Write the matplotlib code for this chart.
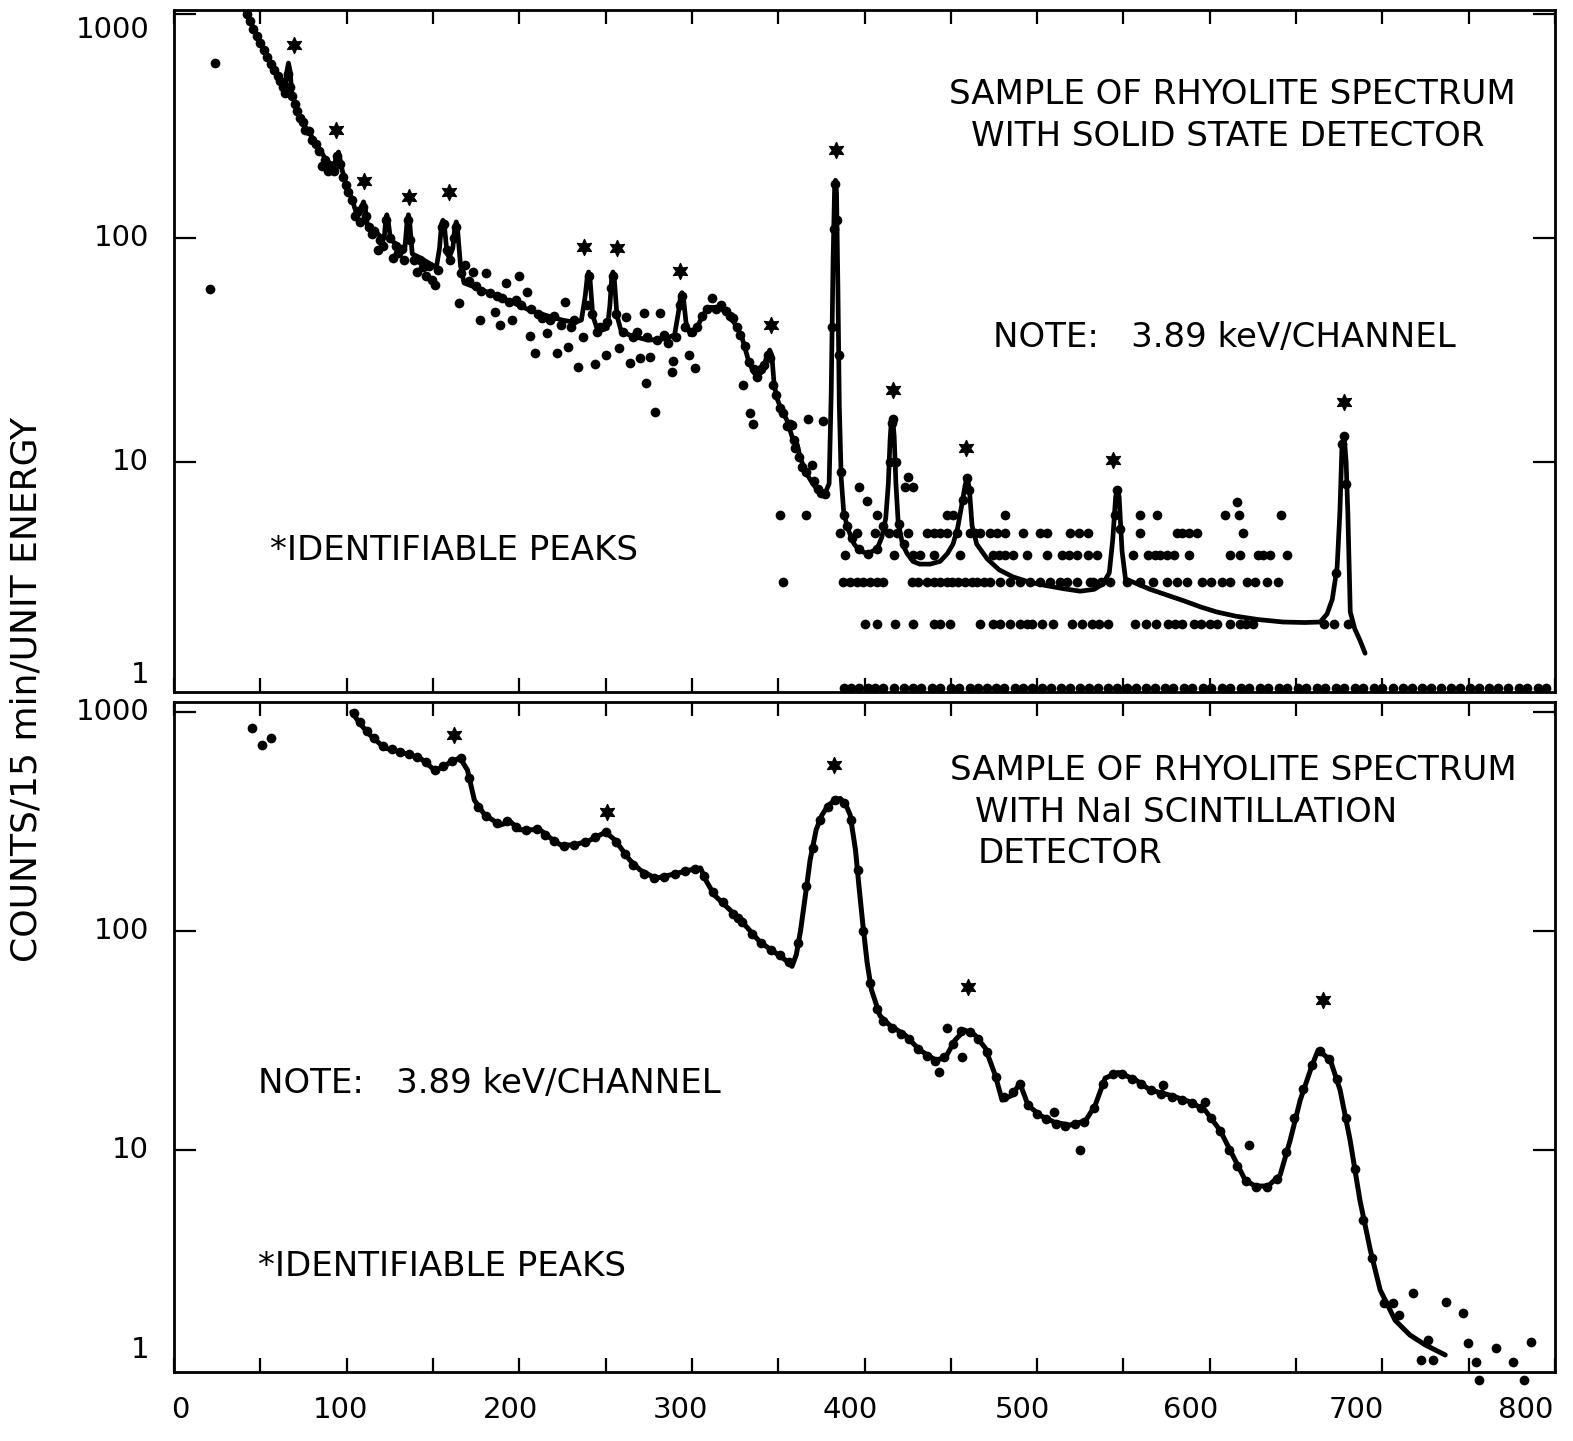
"""
Rhyolite gamma spectra: solid state detector (top) vs NaI scintillation (bottom).
Redrawn from a scanned figure -> out.png
"""
import numpy as np
import matplotlib
matplotlib.use("Agg")
import matplotlib.pyplot as plt
from matplotlib.ticker import MultipleLocator, NullLocator

W, H = 1573, 1441

# ---------------- solid state detector (top) ----------------
ss_line = [
    (41, 1040), (45, 900), (50, 742), (54, 650), (58, 574), (61, 520), (63, 480),
    (64.5, 470), (65.5, 560), (66.3, 604), (67.2, 560), (68.2, 450), (70, 401),
    (73, 350), (76, 313), (79, 290), (82, 266), (85, 245), (88, 223), (91, 214),
    (93, 215), (94.4, 235), (95.3, 242), (96.2, 225), (97.5, 200), (100, 169),
    (103, 150), (105.5, 130), (107.5, 128), (109, 140), (109.8, 145), (110.8, 135),
    (112, 115), (116, 108), (120, 101), (121.8, 100), (122.6, 120), (123.3, 127),
    (124.1, 118), (125.5, 98), (128, 95), (131, 90), (133.8, 91), (135, 118),
    (135.8, 127), (136.6, 116), (138, 85), (142, 82), (148, 77), (152, 74),
    (153.8, 90), (155, 116), (155.8, 120), (156.7, 112), (158.2, 85), (159.5, 82),
    (161.5, 90), (162.7, 112), (163.5, 118), (164.3, 108), (166, 75), (168, 63),
    (175, 60), (185, 56), (195, 52), (205, 48), (216, 45), (225, 43), (232, 42),
    (236, 43), (238.2, 55), (239.5, 68), (240.2, 70.5), (241.1, 64), (242.6, 45),
    (245, 39.5), (248, 38.8), (251, 39.5), (252.5, 50), (253.6, 67), (254.3, 70.5),
    (255.1, 65), (256.6, 45), (259, 38.5), (265, 36.5), (275, 35), (285, 35.5),
    (290, 37), (292.5, 48), (293.6, 56), (294.3, 57), (295.1, 54), (296.6, 42),
    (299, 37), (303, 40), (307, 46), (311, 49), (316, 49), (322, 45), (326, 40),
    (329, 36), (333, 28), (336, 25), (338, 24), (341, 25.5), (343, 29),
    (345.1, 31.6), (346.3, 30), (347.5, 23), (349, 19.5), (352, 17), (355, 15.4),
    (358, 13), (361, 12), (362.7, 10.5), (366, 9), (370, 8), (374, 7.3), (377, 7.2),
    (379.5, 8), (380.7, 20), (381.8, 80), (382.7, 170), (383.2, 181), (383.8, 160),
    (384.6, 60), (385.4, 18), (386.5, 8.5), (388, 5.9), (390.5, 5.0), (394, 4.3),
    (397.4, 4.0), (402, 3.9), (407.3, 4.1), (410, 4.6), (412.3, 5.6), (413.8, 8),
    (414.8, 12.5), (415.6, 15.5), (416.3, 15.7), (417.2, 13), (418.2, 8), (419.5, 5.4),
    (422, 4.3), (424.7, 3.9), (428, 3.6), (432, 3.5), (438, 3.5), (443.8, 3.6),
    (448, 3.9), (451.3, 4.3), (454, 5.1), (456, 6.2), (458.2, 7.8), (459.5, 8.6),
    (460.8, 7.5), (462.3, 5.2), (465, 4.3), (471, 3.7), (478, 3.3), (486, 3.07),
    (496, 2.9), (506, 2.8), (515, 2.72), (525, 2.65), (533, 2.7), (538, 2.85),
    (541.8, 3.2), (543.8, 4.5), (545.5, 7.0), (546.5, 7.6), (547.5, 7.0), (549.2, 4.0),
    (551.2, 3.0), (556, 2.9), (565.5, 2.7), (575, 2.55), (585, 2.4), (595, 2.25),
    (604, 2.14), (615, 2.05), (628, 1.98), (642.5, 1.93), (655, 1.92), (664, 1.93),
    (668, 2.1), (671, 2.44), (673.8, 3.4), (675.4, 6), (676.6, 11.8), (677.9, 13.0),
    (679, 10), (680, 5.9), (681.4, 2.14), (684, 1.8), (687, 1.6), (690, 1.4),
]

ss_dots = [
    (21, 59), (24, 604),
    (42, 1000), (44, 930), (46, 860), (48, 800), (50, 740), (52, 690), (54, 640),
    (56, 600), (58, 565), (60, 530), (61.5, 500), (63, 470), (64.5, 445), (66, 540),
    (67, 470), (68.5, 430), (70, 395), (71.5, 370), (73, 345), (74.5, 330), (76, 305),
    (78, 300), (80, 275), (82, 262), (84, 245), (86, 210), (87.5, 222), (89, 200),
    (91, 210), (92.5, 200), (94.5, 232), (96, 215), (98, 188), (99.5, 172), (101, 160),
    (103, 148), (105, 125), (106.5, 132), (108, 118), (109.5, 138), (111, 125),
    (113, 112), (114.5, 104), (116, 108), (118, 88), (119.5, 98), (121, 92),
    (123, 120), (125, 100), (127, 81), (128.5, 92), (130, 86), (132, 89), (133.5, 80),
    (135.5, 120), (137, 98), (139, 80), (141, 70.5), (142.5, 80), (144, 74), (146, 68),
    (148, 75), (149.5, 65), (151, 61.7), (153, 72), (155, 112), (156.5, 115),
    (158, 88), (160, 80), (162, 100), (163.5, 112), (165, 51), (166.5, 70),
    (168.6, 75.6), (171, 64), (173, 70.6), (175, 61), (177, 43), (178, 58), (181, 70),
    (183, 57), (186, 46.8), (187, 55), (189, 41), (190, 54), (192.5, 63), (194, 52),
    (196, 43), (198, 53), (200, 67.6), (201, 50), (204.5, 57.4), (206, 36.5), (207, 48),
    (209, 30.7), (211, 46), (213, 44), (216, 37.7), (218, 43), (220, 45), (222, 30.7),
    (224, 41), (226.5, 51.8), (228, 32.6), (230, 40), (232, 43), (234, 26.6),
    (237, 36.1), (239, 50), (240.5, 68), (242, 46), (244, 27.4), (245, 38), (247, 40),
    (250, 30), (251, 42), (253, 60), (254.5, 68), (256, 46), (258, 32.3), (260, 38),
    (262, 44.4), (264, 27.7), (266, 36), (268, 38), (270, 29.1), (272, 46.2),
    (273.5, 22.5), (274, 36), (275.8, 29.4), (278.7, 16.7), (280, 35), (281.6, 46.2),
    (284, 37), (286, 34), (288.5, 25.2), (289, 28.3), (291, 36), (293, 50),
    (294.5, 55), (296, 40), (298.4, 30), (300, 38), (302, 26.3), (303, 40), (306, 45),
    (309, 48), (311.7, 54), (314, 48), (317, 50), (320, 47), (322, 45), (324, 44),
    (326, 40), (328, 37), (329.7, 22), (331, 33), (333, 28), (333.7, 16.6),
    (335.5, 14.8), (336, 26), (338, 24), (340, 26), (342, 27), (344, 30),
    (345.5, 29), (347, 22), (349, 20), (351, 17.5), (353, 16.5), (355, 14.5),
    (357, 14.8), (358, 14.7), (359, 12.5), (360, 11.5), (362, 10.5), (364, 9.5),
    (366, 9), (367.3, 15.6), (369.4, 9.7), (371, 8.2), (373, 7.6), (375, 7.3),
    (376, 15.2), (377, 7.2), (381, 40), (382.2, 110), (383.2, 175), (384.2, 120),
    (385, 30), (386.5, 9), (388, 5.8), (390, 5.2), (393, 4.6), (397, 4.1), (402, 3.9),
    (407, 4.1), (411, 5.2), (414.5, 10), (415.8, 15), (416.6, 15.5), (418, 10),
    (420, 5.3), (423, 4.3), (425, 8.6), (423.5, 7.7), (428, 7.7), (397, 7.7),
    (401.7, 6.7), (457, 6.8), (459.2, 8.5), (460.7, 7.5), (545, 5.8), (546.5, 7.5),
    (548, 5.0), (616, 6.6), (673, 3.2), (676.5, 12), (678, 13), (679.2, 8),
]

# quantized count rows on the right part of the solid state spectrum
row_58_ch = [351, 366, 407.5, 447.7, 451.3, 481.5, 559.7, 569.3, 609, 617, 641]
row_48_ch = [386, 395.5, 406, 414, 418.7, 425.4, 436, 440, 443.8, 447.7, 453.5, 461.2,
             464, 467, 472.8, 476.6, 481.5, 492, 501.7, 505.6, 519, 524, 529.7, 559.7,
             581, 584, 588, 592.5, 619.5]
row_385_ch = [388.8, 416.8, 428.3, 432.2, 440, 455.4, 474.7, 478, 481.5, 486.3, 494,
              505.6, 514.3, 518.2, 523, 529.7, 534.6, 555.8, 564.5, 568.4, 571.3, 575,
              579.4, 588.2, 611.8, 617.6, 628, 631, 635, 644.7]
row_29_ch = [353, 387.8, 391.6, 395.5, 399.4, 403.2, 407, 411, 427.4, 431.2, 436, 440,
             443.8, 447.7, 450.6, 454.4, 458.3, 462.2, 465, 469, 472.8, 478.6, 484.4,
             490, 495.9, 501.7, 507.5, 513.3, 517.2, 523, 530.7, 532.6, 537, 542.3, 552,
             559.7, 567.4, 575.1, 581, 586.7, 595.4, 601, 607, 611.8, 621.5, 626.3, 633,
             639.6]
row_19_ch = [400.3, 407, 417.7, 428.3, 440, 444, 449.6, 467, 474.7, 478.6, 484.4, 490.2,
             494, 497, 503, 509.4, 520, 526, 532, 536, 541.3, 556.8, 563, 569, 576, 580,
             583.8, 590.6, 595, 600, 604, 611.8, 617.6, 621, 625, 666, 672, 680]
row_1_ch = [388, 392, 397, 402, 406, 411, 417, 423, 428, 433, 439, 444, 450, 455, 461,
            466, 471, 476, 481, 487, 492, 497, 503, 508, 514, 519, 525, 530, 535, 541,
            546, 552, 557, 563, 568, 574, 579, 585, 590, 596, 601, 607, 612, 618, 623,
            629, 634, 640, 645, 651, 656, 662, 667, 673, 678, 684, 689, 695, 700, 706,
            712, 717, 723, 728, 734, 740, 745, 751, 756, 762, 767, 773, 779, 784, 790,
            795]
row_levels = [(row_58_ch, 5.8), (row_48_ch, 4.8), (row_385_ch, 3.85),
              (row_29_ch, 2.92), (row_19_ch, 1.9), (row_1_ch, 0.98)]

ss_stars = [(69.6, 727), (93.9, 303), (110.1, 180), (136.4, 153), (159.2, 161),
            (237.3, 91.4), (256.6, 90), (292.9, 71.5), (346.1, 41), (383.5, 247),
            (416.6, 21), (458.6, 11.5), (544.2, 10.2), (677.9, 18.6)]

# ---------------- NaI scintillation detector (bottom) ----------------
nai_line = [
    (103, 1000), (108, 880), (113.6, 785), (122, 685), (131, 657), (142.5, 617),
    (151, 543), (156, 560), (160, 591), (165.7, 617), (170, 543), (174, 396),
    (180, 339), (189, 305), (195, 315), (200, 290), (212, 290), (218, 266),
    (224, 247), (232, 247), (241, 260), (250, 283), (255.5, 260), (264, 211),
    (270, 190), (279, 174), (287, 180), (299, 190), (305, 194), (308, 171),
    (313, 146), (322, 125), (331, 106), (339.5, 89), (348, 80), (356, 72), (358, 69),
    (360.5, 78), (363, 101), (366, 150), (368.5, 211), (372, 290), (375.4, 339),
    (379, 375), (383, 396), (386, 403), (389, 380), (391.7, 339), (394.8, 234),
    (396.8, 160), (399, 108), (401.5, 72), (404, 54), (409, 41), (414.8, 37),
    (423.5, 33.5), (432, 28.6), (441, 25.8), (446.7, 26.3), (452.5, 31.8),
    (458, 35.3), (464, 33.5), (470, 29.2), (475.7, 22), (479.7, 16.9), (485.5, 17.8),
    (490, 20.2), (494.8, 16), (501.7, 14.4), (510, 13.4), (519, 13), (528, 13.6),
    (533.6, 16), (539.4, 21.3), (547, 22.6), (556.8, 21), (565.5, 18.8), (577, 17.8),
    (588.6, 16.6), (597.3, 15.2), (606, 12.3), (614.7, 9), (620.5, 7.3), (626.3, 6.85),
    (633.8, 6.85), (640.8, 7.7), (646.6, 11.1), (652.4, 16.9), (659.3, 24.4),
    (662.8, 28.6), (669.8, 25.8), (675.5, 18.8), (681.3, 11.1), (687, 5.9), (693, 3.5),
    (698.7, 2.3), (707.4, 1.67), (716, 1.43), (724.8, 1.29), (736.4, 1.16),
]

nai_dots = [
    (45, 845), (51, 707), (56, 760),
    (104, 990), (108, 900), (112, 820), (116, 760), (121, 700), (126, 680), (131, 660),
    (136, 640), (141, 620), (146, 590), (151, 545), (156, 565), (161, 600), (166, 615),
    (171, 500), (176, 370), (181, 335), (187, 310), (193, 318), (198, 300), (204, 290),
    (210, 292), (215, 275), (220, 258), (226, 245), (232, 248), (238, 255), (244, 268),
    (250, 283), (256, 255), (261, 225), (266, 200), (272, 182), (278, 175), (284, 176),
    (290, 183), (296, 188), (302, 192), (307, 178), (312, 150), (318, 135), (324, 120),
    (326.8, 115), (329, 110), (335, 97), (340, 88), (346, 82), (351, 78), (356, 72),
    (361.5, 88), (366, 160), (370, 240), (374, 320), (379, 370), (383, 396), (388, 385),
    (392, 320), (396, 190), (399, 100), (403, 58), (407, 44), (411, 39), (416, 36),
    (421, 34), (426, 32), (431, 29), (436, 27), (441, 25.5), (443, 22.7), (446, 26.5),
    (448, 36), (451, 30.5), (456, 35), (456.5, 26.6), (461, 34.5), (466, 32), (471, 28),
    (476, 21.5), (481, 17.5), (486, 18.5), (490, 20), (495, 16), (500, 14.6),
    (505, 13.8), (510, 14.9), (511, 13.2), (516, 12.9), (522, 13.2), (525, 10),
    (527, 13.5), (533, 15.5), (538, 20), (544, 22.3), (549, 22.3), (555, 21.2),
    (560, 20), (566, 18.8), (572, 18), (573, 19.8), (578, 17.5), (584, 17),
    (590, 16.4), (595, 15.6), (597, 16.5), (601, 14), (606, 12.2), (611, 10),
    (616, 8.5), (621, 7.2), (623, 10.5), (627, 6.8), (633, 6.8), (639, 7.4),
    (644, 9.8), (649, 14), (654, 19), (659, 24.4), (664, 28.4), (669, 26), (674, 21),
    (679, 14), (684, 8.2), (689, 4.8), (694, 3.2),
    (700.9, 2.0), (706, 2.0), (717.7, 2.22), (709.6, 1.76), (736.8, 2.02),
    (746.7, 1.8), (726.4, 1.36), (722.3, 1.1), (729.3, 1.1), (749.6, 1.31),
    (754.2, 1.08), (765.8, 1.25), (775.7, 1.08), (786.1, 1.33), (756, 0.89),
    (782, 0.89),
]

nai_stars = [(162.3, 785), (251, 349), (382.6, 573), (459.7, 55.5), (665.5, 48.4)]

# x labels: the lettering sits a little left of its tick in the scan
xlab_text = ["0", "100", "200", "300", "400", "500", "600", "700", "800"]
xlab_pos = [3.5, 96.5, 194.8, 293.3, 391.9, 491.3, 589, 684.6, 783]

FS = 24.5
MS = 7.0
plt.rcParams['font.family'] = ['DejaVu Sans']


def fx(px):
    return px / W


def fy(py):
    return 1 - py / H


def style(ax, ylim, labels):
    ax.set_yscale('log')
    ax.set_xlim(0, 800)
    ax.set_ylim(*ylim)
    for s in ax.spines.values():
        s.set_linewidth(2.0)
    ax.xaxis.set_major_locator(MultipleLocator(50))
    ax.xaxis.set_minor_locator(NullLocator())
    ax.tick_params(axis='x', direction='in', top=True, bottom=True,
                   length=10, width=1.6, labelbottom=False)
    ax.set_yticks([10, 100, 1000])
    ax.yaxis.set_minor_locator(NullLocator())
    ax.set_yticklabels([])
    ax.tick_params(axis='y', direction='in', left=True, right=True,
                   length=16, width=1.6)
    tr = ax.get_yaxis_transform()
    for val, txt in labels:
        ax.text(-0.018, val, txt, transform=tr, ha='right', va='center',
                fontsize=21)


def draw(ax, line, dots, stars, lw):
    lc = np.array(line)
    ax.plot(lc[:, 0], lc[:, 1], color='k', lw=lw, solid_joinstyle='round',
            solid_capstyle='round', zorder=3)
    d = np.array(dots)
    ax.plot(d[:, 0], d[:, 1], 'o', color='k', ms=MS, mew=0, clip_on=False,
            zorder=4)
    st = np.array(stars)
    ax.plot(st[:, 0], st[:, 1], ls='none', marker=(6, 1, 0), ms=12, color='k',
            mew=0.8, zorder=4)


fig = plt.figure(figsize=(W / 100, H / 100), dpi=100)
fig.patch.set_facecolor('white')

left, width = fx(174), fx(1555) - fx(174)
axT = fig.add_axes([left, fy(692), width, (692 - 10) / H])
axB = fig.add_axes([left, fy(1372), width, (1372 - 702) / H])

# ---- top: solid state ----
style(axT, (0.94, 1042), [(848, '1000'), (100, '100'), (10, '10'), (1.12, '1')])
draw(axT, ss_line, ss_dots, ss_stars, 3.4)
for chans, lev in row_levels:
    axT.plot(chans, [lev] * len(chans), 'o', color='k', ms=MS, mew=0,
             clip_on=False, zorder=4)

# ---- bottom: NaI ----
style(axB, (0.97, 1111), [(1000, '1000'), (100, '100'), (10, '10'), (1.22, '1')])
draw(axB, nai_line, nai_dots, nai_stars, 3.6)
xtr = axB.get_xaxis_transform()
for pos, txt in zip(xlab_pos, xlab_text):
    axB.text(pos, -0.057, txt, transform=xtr, ha='center', va='center',
             fontsize=21)

# ---- texts ----
fig.text(fx(1232), fy(95), "SAMPLE OF RHYOLITE SPECTRUM", fontsize=FS,
         ha='center', va='center')
fig.text(fx(1228), fy(136), "WITH SOLID STATE DETECTOR", fontsize=FS,
         ha='center', va='center')
fig.text(fx(993), fy(337), "NOTE:   3.89 keV/CHANNEL", fontsize=FS,
         ha='left', va='center')
fig.text(fx(270), fy(550), "*IDENTIFIABLE PEAKS", fontsize=FS,
         ha='left', va='center')

fig.text(fx(950), fy(770), "SAMPLE OF RHYOLITE SPECTRUM", fontsize=FS,
         ha='left', va='center')
fig.text(fx(975), fy(812), "WITH NaI SCINTILLATION", fontsize=FS,
         ha='left', va='center')
fig.text(fx(978), fy(853), "DETECTOR", fontsize=FS, ha='left', va='center')
fig.text(fx(258), fy(1083), "NOTE:   3.89 keV/CHANNEL", fontsize=FS,
         ha='left', va='center')
fig.text(fx(258), fy(1267), "*IDENTIFIABLE PEAKS", fontsize=FS,
         ha='left', va='center')

fig.text(fx(27), fy(690), "COUNTS/15 min/UNIT ENERGY", fontsize=26,
         rotation=90, ha='center', va='center')

fig.savefig("out.png", dpi=100, facecolor='white')
plt.close(fig)
